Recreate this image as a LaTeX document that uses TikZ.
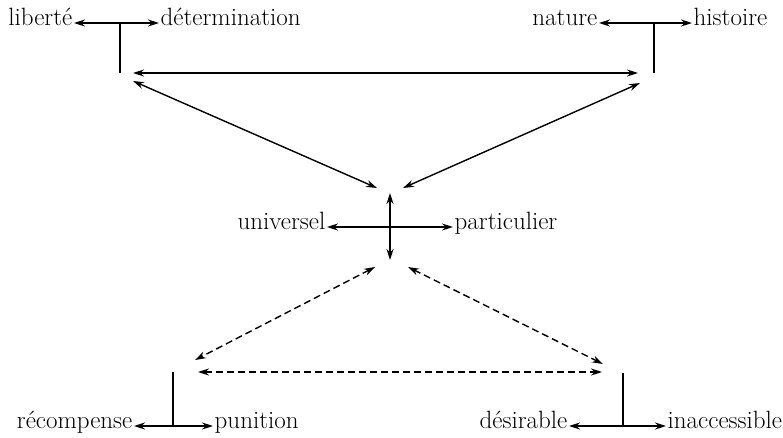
\documentclass[tikz,border=0pt]{standalone}
\usetikzlibrary{arrows.meta,positioning,calc}
\begin{document}
\begin{tikzpicture}[
        x=1pt, y=-1pt,
        % Styles
        word/.style={inner xsep=1.5pt, inner ysep=2pt, font=\fontsize{25}{29}\selectfont},
        dblarrow/.style={line width=1.4pt, {Stealth[length=11pt,width=7pt]}-{Stealth[length=11pt,width=7pt]}},
        dasharrow/.style={dblarrow, dash pattern=on 7pt off 4pt},
        stem/.style={line width=1.4pt}
    ]
        \useasboundingbox (0,0) rectangle (783,437);

        % Junction points
        \coordinate (tl) at (120,23);
        \coordinate (tlb) at (120,73);
        \coordinate (tr) at (654,23);
        \coordinate (trb) at (654,73);
        \coordinate (c) at (390,227);
        \coordinate (blt) at (173,372);
        \coordinate (bl) at (173,426);
        \coordinate (brt) at (623,373);
        \coordinate (br) at (623,426);

        % Words (relative positioning)
        \node (lib) [word, left=46pt of tl, anchor=mid east] {liberté};
        \node (det) [word, right=39pt of tl, anchor=mid west] {détermination};
        \node (nat) [word, left=55pt of tr, anchor=mid east] {nature};
        \node (his) [word, right=38pt of tr, anchor=mid west] {histoire};
        \node (uni) [word, left=63pt of c, anchor=mid east] {universel};
        \node (par) [word, right=63pt of c, anchor=mid west] {particulier};
        \node (rec) [word, left=39pt of bl, anchor=mid east] {récompense};
        \node (pun) [word, right=40pt of bl, anchor=mid west] {punition};
        \node (des) [word, left=54pt of br, anchor=mid east] {désirable};
        \node (ina) [word, right=43pt of br, anchor=mid west] {inaccessible};

        % Pairs and stems
        \draw[dblarrow] (lib.mid east) -- (det.mid west);
        \draw[stem] (tl) -- (tlb);
        \draw[dblarrow] (nat.mid east) -- (his.mid west);
        \draw[stem] (tr) -- (trb);
        \draw[dblarrow] (uni.mid east) -- (par.mid west);
        \draw[dblarrow] ($(c)+(0,-34)$) -- ($(c)+(0,33)$);
        \draw[dblarrow] (rec.mid east) -- (pun.mid west);
        \draw[stem] (blt) -- (bl);
        \draw[dblarrow] (des.mid east) -- (ina.mid west);
        \draw[stem] (brt) -- (br);

        % Top triangle
        \draw[dblarrow] ($(tlb)+(13,0)$) -- ($(trb)+(-16,0)$);
        \draw[dblarrow] ($(tlb)+(13,8)$) -- ($(c)+(-13,-39)$);
        \draw[dblarrow] ($(trb)+(-14,10)$) -- ($(c)+(13,-39)$);

        % Bottom triangle (dashed)
        \draw[dasharrow] ($(c)+(-15,40)$) -- ($(blt)+(22,-12)$);
        \draw[dasharrow] ($(c)+(18,40)$) -- ($(brt)+(-20,-9)$);
        \draw[dasharrow] ($(blt)+(25,0)$) -- ($(brt)+(-21,-1)$);

    \end{tikzpicture}
\end{document}
